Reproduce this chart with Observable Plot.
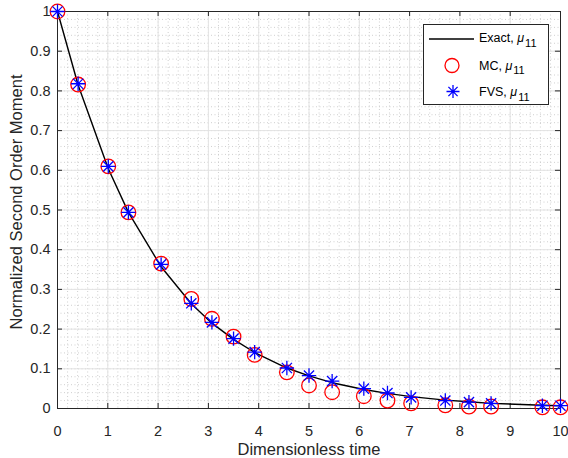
<!DOCTYPE html>
<html><head><meta charset="utf-8">
<script src="https://cdn.jsdelivr.net/npm/d3@7"></script>
<script src="https://cdn.jsdelivr.net/npm/@observablehq/plot@0.6"></script>
<style>
body{margin:0;background:#fff;}
#chart{position:relative;width:568px;height:458px;}
</style>
</head><body><div id="chart"></div>
<script>
// ---- data ----
const xTicks = [0,1,2,3,4,5,6,7,8,9,10];
const yTicks = [0,0.1,0.2,0.3,0.4,0.5,0.6,0.7,0.8,0.9,1];
const yTickLabels = ["0","0.1","0.2","0.3","0.4","0.5","0.6","0.7","0.8","0.9","1"];
const xMinor = d3.range(0, 10.001, 0.2);
const yMinor = d3.range(0, 1.0001, 0.02);

const exactTime  = [0,0.41,1.01,1.41,2.06,2.66,3.07,3.50,3.92,4.56,5.00,5.46,6.09,6.56,7.03,7.71,8.18,8.62,9.64,10];
const exactValue = [1,0.815,0.604,0.494,0.357,0.264,0.215,0.174,0.141,0.102,0.082,0.065,0.048,0.038,0.030,0.021,0.017,0.013,0.008,0.007];

const mcTime  = [0,0.41,1.01,1.41,2.06,2.66,3.07,3.50,3.92,4.56,5.00,5.46,6.09,6.56,7.03,7.71,8.18,8.62,9.64,10];
const mcValue = [1,0.816,0.610,0.494,0.365,0.276,0.226,0.181,0.135,0.091,0.058,0.041,0.031,0.020,0.013,0.008,0.005,0.005,0.003,0.003];

const fvsTime  = [0,0.41,1.01,1.41,2.06,2.66,3.07,3.50,3.92,4.56,5.00,5.46,6.09,6.56,7.03,7.71,8.18,8.62,9.64,10];
const fvsValue = [1,0.818,0.610,0.494,0.363,0.265,0.217,0.176,0.142,0.102,0.083,0.069,0.050,0.039,0.028,0.020,0.016,0.013,0.007,0.007];

const seriesNames = ["Exact, ", "MC, ", "FVS, "];

// ---- build ----
const exact = exactTime.map((t,i)=>({t, v: exactValue[i]}));
const mc = mcTime.map((t,i)=>({t, v: mcValue[i]}));
const fvs = fvsTime.map((t,i)=>({t, v: fvsValue[i]}));

const W = 568, H = 458;
const mL = 57, mR = 8, mT = 11, mB = 50;
const plotW = W - mL - mR, plotH = H - mT - mB;
const FONT = "'Liberation Sans', Arial, Helvetica, sans-serif";
const AX = "#262626";

const star = {
  draw(ctx, size) {
    const r = Math.sqrt(size / Math.PI);
    const d = r * Math.SQRT1_2;
    ctx.moveTo(-r, 0); ctx.lineTo(r, 0);
    ctx.moveTo(0, -r); ctx.lineTo(0, r);
    ctx.moveTo(-d, -d); ctx.lineTo(d, d);
    ctx.moveTo(-d, d); ctx.lineTo(d, -d);
  }
};

const svg = Plot.plot({
  width: W, height: H,
  marginLeft: mL, marginRight: mR, marginTop: mT, marginBottom: mB,
  style: {fontFamily: FONT, background: "#fff", overflow: "visible"},
  x: {domain: [0, 10], axis: null},
  y: {domain: [0, 1], axis: null},
  marks: [
    Plot.ruleX(xMinor, {x: d=>d, stroke: "#c4c4c4", strokeDasharray: "1,2.5", strokeWidth: 0.8}),
    Plot.ruleY(yMinor, {y: d=>d, stroke: "#c4c4c4", strokeDasharray: "1,2.5", strokeWidth: 0.8}),
    Plot.ruleX(xTicks, {x: d=>d, stroke: "#e3e3e3", strokeWidth: 1}),
    Plot.ruleY(yTicks, {y: d=>d, stroke: "#e3e3e3", strokeWidth: 1}),
    // inward ticks on all sides
    Plot.tickX(xTicks, {x: d=>d, insetTop: plotH - 5, stroke: AX}),
    Plot.tickX(xTicks, {x: d=>d, insetBottom: plotH - 5, stroke: AX}),
    Plot.tickY(yTicks, {y: d=>d, insetRight: plotW - 5, stroke: AX}),
    Plot.tickY(yTicks, {y: d=>d, insetLeft: plotW - 5, stroke: AX}),
    Plot.frame({stroke: AX, strokeWidth: 1}),
    // tick labels
    Plot.text(xTicks, {x: d=>d, frameAnchor: "bottom", lineAnchor: "top", dy: 17, text: d=>String(d), fontSize: 14.5, fill: AX}),
    Plot.text(yTicks, {y: d=>d, frameAnchor: "left", textAnchor: "end", dx: -7, text: (d,i)=>yTickLabels[i], fontSize: 14.5, fill: AX}),
    // axis titles
    Plot.text(["Dimensionless time"], {frameAnchor: "bottom", lineAnchor: "top", dy: 35, text: d=>d, fontSize: 16.5, fill: AX}),
    Plot.text(["Normalized Second Order Moment"], {frameAnchor: "left", textAnchor: "middle", rotate: -90, dx: -41, dy: -8, text: d=>d, fontSize: 16.5, fill: AX}),
    // data
    Plot.line(exact, {x: "t", y: "v", stroke: "#000", strokeWidth: 1.4}),
    Plot.dot(mc, {x: "t", y: "v", r: 7.3, stroke: "#ff0000", fill: "none", strokeWidth: 1.3}),
    Plot.dot(fvs, {x: "t", y: "v", r: 7.2, symbol: star, stroke: "#0000ff", fill: "none", strokeWidth: 1.3})
  ]
});

// legend
const g = d3.select(svg).append("g").attr("font-family", FONT).attr("font-size", 12.5).attr("fill", "#000").attr("text-anchor", "start");
g.append("rect").attr("x", 423.5).attr("y", 24.5).attr("width", 125).attr("height", 80)
  .attr("fill", "#fff").attr("stroke", AX).attr("stroke-width", 1);
g.append("line").attr("x1", 429).attr("x2", 474).attr("y1", 39).attr("y2", 39).attr("stroke", "#000").attr("stroke-width", 1.4);
g.append("circle").attr("cx", 452).attr("cy", 65.5).attr("r", 7).attr("fill", "none").attr("stroke", "#ff0000").attr("stroke-width", 1.3);
const s = 6.5, sd = s * Math.SQRT1_2;
g.append("path").attr("transform", "translate(453,91.5)")
  .attr("d", `M${-s},0L${s},0M0,${-s}L0,${s}M${-sd},${-sd}L${sd},${sd}M${-sd},${sd}L${sd},${-sd}`)
  .attr("stroke", "#0000ff").attr("stroke-width", 1.3).attr("fill", "none");
const baselines = [42, 69.5, 96];
seriesNames.forEach((name, i) => {
  const t = g.append("text").attr("x", 479).attr("y", baselines[i]).attr("text-anchor", "start");
  t.append("tspan").text(name);
  t.append("tspan").attr("font-style", "italic").text("μ");
  t.append("tspan").attr("dy", 4.5).attr("dx", 1).attr("font-size", 11).text("11");
});

document.getElementById("chart").appendChild(svg);
</script>
</body></html>
